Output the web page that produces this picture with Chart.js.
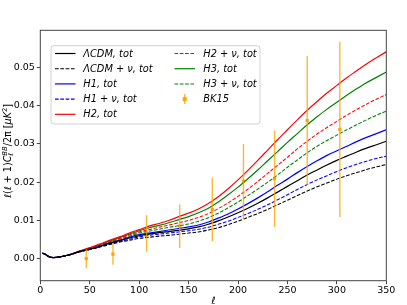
<!DOCTYPE html>
<html>
<head>
  <meta charset="UTF-8">
  <script src="https://cdn.jsdelivr.net/npm/chart.js"></script>
  <style>
    html, body { margin: 0; padding: 0; background: #fff; overflow: hidden; }
  </style>
  <title>BB spectrum</title>
</head>
<body>
  <canvas id="myChart" width="407" height="305"></canvas>
  <script>
    const ells = [2, 4, 7, 10, 13, 20, 30, 40, 50, 60, 70, 80, 90, 100, 110, 120, 130, 140, 150, 160,
      170, 180, 190, 200, 210, 220, 230, 240, 250, 260, 270, 280, 290, 300, 310, 320, 330, 340, 350];

    const lcdmTot = [.0014, .0013, .0008, .0004, .0003, .0005, .0011, .0019, .0025, .0032, .0040, .0047, .0054, .0060, .0064, .0068, .0071, .0074, .0078, .0083,
      .0090, .0099, .0109, .0120, .0132, .0145, .0159, .0174, .0189, .0204, .0219, .0232, .0245, .0257, .0268, .0279, .0289, .0298, .0307];
    const lcdmNu = [.0014, .0013, .0008, .0004, .0003, .0005, .0010, .0018, .0024, .0030, .0037, .0043, .0048, .0053, .0056, .0059, .0061, .0064, .0067, .0070,
      .0075, .0081, .0089, .0098, .0108, .0118, .0129, .0141, .0153, .0165, .0177, .0188, .0198, .0208, .0217, .0225, .0233, .0240, .0246];
    const h1Tot = [.0014, .0013, .0008, .0004, .0003, .0005, .0011, .0019, .0025, .0033, .0041, .0048, .0056, .0063, .0067, .0071, .0075, .0079, .0083, .0088,
      .0096, .0106, .0117, .0130, .0144, .0159, .0175, .0192, .0208, .0225, .0241, .0256, .0270, .0282, .0294, .0306, .0317, .0327, .0337];
    const h1Nu = [.0014, .0013, .0008, .0004, .0003, .0005, .0010, .0018, .0024, .0031, .0038, .0045, .0051, .0057, .0061, .0064, .0067, .0070, .0073, .0077,
      .0082, .0090, .0098, .0108, .0118, .0129, .0141, .0154, .0167, .0181, .0194, .0206, .0217, .0228, .0238, .0247, .0255, .0262, .0268];
    const h2Tot = [.0014, .0013, .0008, .0004, .0003, .0005, .0011, .0020, .0029, .0038, .0048, .0057, .0067, .0076, .0085, .0092, .0100, .0110, .0119, .0130,
      .0144, .0162, .0183, .0206, .0231, .0257, .0284, .0311, .0337, .0363, .0388, .0411, .0433, .0453, .0473, .0491, .0509, .0525, .0541];
    const h2Nu = [.0014, .0013, .0008, .0004, .0003, .0005, .0011, .0020, .0027, .0036, .0045, .0053, .0062, .0070, .0076, .0082, .0088, .0094, .0100, .0108,
      .0118, .0131, .0146, .0163, .0182, .0202, .0223, .0244, .0265, .0287, .0307, .0326, .0343, .0359, .0375, .0390, .0404, .0417, .0429];
    const h3Tot = [.0014, .0013, .0008, .0004, .0003, .0005, .0011, .0020, .0028, .0037, .0046, .0055, .0064, .0073, .0081, .0087, .0094, .0102, .0110, .0120,
      .0132, .0148, .0167, .0187, .0209, .0232, .0256, .0280, .0304, .0327, .0350, .0371, .0391, .0409, .0427, .0444, .0460, .0474, .0488];
    const h3Nu = [.0014, .0013, .0008, .0004, .0003, .0005, .0011, .0019, .0026, .0035, .0043, .0051, .0059, .0067, .0072, .0077, .0082, .0086, .0091, .0098,
      .0107, .0119, .0133, .0148, .0165, .0182, .0200, .0219, .0239, .0258, .0277, .0294, .0309, .0323, .0337, .0350, .0363, .0375, .0386];

    // BK15 band powers
    const bkEll = [46.5, 73.5, 107.5, 141, 174, 205.5, 237, 270, 303];
    const bkVal = [0.0000, 0.0012, 0.0066, 0.0085, 0.0129, 0.0202, 0.0209, 0.0361, 0.0338];
    const bkErr = [0.0025, 0.0028, 0.0048, 0.0057, 0.0083, 0.0098, 0.0126, 0.0169, 0.0229];

    const yTicks = [0.00, 0.01, 0.02, 0.03, 0.04, 0.05];
    const xTicks = [0, 50, 100, 150, 200, 250, 300, 350];

    const FONT = "'DejaVu Sans'";
    const ORANGE = '#ffa500';
    const BAR = 'rgba(255,165,0,0.8)';

    function pts(arr) { return arr.map((v, i) => ({ x: ells[i], y: v })); }
    function curve(label, arr, color, dashed) {
      return {
        label: label, data: pts(arr), borderColor: color, backgroundColor: color,
        borderWidth: dashed ? 1.05 : 1.2, borderDash: dashed ? [3.7, 1.6] : [],
        pointRadius: 0, fill: false, cubicInterpolationMode: 'monotone'
      };
    }

    const datasets = [
      curve('ΛCDM, tot', lcdmTot, '#000000', false),
      curve('ΛCDM + ν, tot', lcdmNu, '#000000', true),
      curve('H1, tot', h1Tot, '#0000ff', false),
      curve('H1 + ν, tot', h1Nu, '#0000ff', true),
      curve('H2, tot', h2Tot, '#ff0000', false),
      curve('H2 + ν, tot', h2Nu, '#ff0000', true),
      curve('H3, tot', h3Tot, '#008000', false),
      curve('H3 + ν, tot', h3Nu, '#008000', true),
      {
        label: 'BK15', data: bkEll.map((l, i) => ({ x: l, y: bkVal[i] })),
        showLine: false, pointStyle: 'rect', pointRadius: 2.3, pointBorderWidth: 0,
        backgroundColor: ORANGE, borderColor: ORANGE
      }
    ];

    // error bars, frame, legend and axis titles
    const extras = {
      id: 'extras',
      afterDatasetsDraw(chart) {
        const c = chart.ctx, xs = chart.scales.x, ys = chart.scales.y;
        c.save();
        c.strokeStyle = BAR;
        c.lineWidth = 1.4;
        bkEll.forEach((l, i) => {
          const px = xs.getPixelForValue(l);
          c.beginPath();
          c.moveTo(px, ys.getPixelForValue(bkVal[i] - bkErr[i]));
          c.lineTo(px, ys.getPixelForValue(bkVal[i] + bkErr[i]));
          c.stroke();
        });
        c.restore();
      },
      afterDraw(chart) {
        const c = chart.ctx, a = chart.chartArea;
        c.save();
        // frame
        c.strokeStyle = '#444';
        c.lineWidth = 1;
        c.strokeRect(a.left, a.top, a.right - a.left, a.bottom - a.top);

        // legend
        const bx = 51, by = 45.7, bw = 209, bh = 78.3;
        c.fillStyle = 'rgba(255,255,255,0.8)';
        c.strokeStyle = 'rgba(204,204,204,0.9)';
        c.beginPath();
        c.roundRect(bx, by, bw, bh, 3);
        c.fill();
        c.stroke();
        const cols = [{ x0: 55, x1: 75.5, tx: 83.3 }, { x0: 174.5, x1: 195, tx: 203.3 }];
        const rowY = i => 53.5 + i * 15.2;
        c.textBaseline = 'middle';
        datasets.forEach((d, i) => {
          const col = i < 5 ? cols[0] : cols[1];
          const y = rowY(i < 5 ? i : i - 5);
          if (d.label === 'BK15') {
            const mx = (col.x0 + col.x1) / 2;
            c.strokeStyle = BAR;
            c.lineWidth = 1.4;
            c.beginPath(); c.moveTo(mx, y - 5); c.lineTo(mx, y + 5); c.stroke();
            c.fillStyle = ORANGE;
            c.fillRect(mx - 2, y - 2, 4, 4);
          } else {
            c.strokeStyle = d.borderColor;
            c.lineWidth = d.borderWidth;
            c.setLineDash(d.borderDash);
            c.beginPath(); c.moveTo(col.x0, y); c.lineTo(col.x1, y); c.stroke();
            c.setLineDash([]);
          }
          c.fillStyle = '#000';
          c.font = 'italic 9.8px ' + FONT;
          c.fillText(d.label, col.tx, y + 0.5);
        });

        // x title
        c.font = '10px ' + FONT;
        c.textAlign = 'center';
        c.textBaseline = 'alphabetic';
        c.fillText('ℓ', (a.left + a.right) / 2, 303.5);

        // y title with sub/superscripts
        c.translate(8.5, 151);
        c.rotate(-Math.PI / 2);
        c.textAlign = 'left';
        c.textBaseline = 'middle';
        const big = 9.6, small = 6.8;
        const parts = [
          { t: 'ℓ(ℓ + 1)', f: big + 'px ' }, { t: 'C', f: 'italic ' + big + 'px ' },
          { t: 'ℓ', f: small + 'px ', dy: 2.5, stack: 'BB' },
          { t: '/2π ', f: big + 'px ' }, { t: '[', f: big + 'px ' },
          { t: 'μK', f: 'italic ' + big + 'px ' }, { t: '2', f: small + 'px ', dy: -3.5 },
          { t: ']', f: big + 'px ' }
        ];
        let w = 0;
        const measure = p => { c.font = p.f + FONT; return c.measureText(p.t).width; };
        parts.forEach(p => {
          let pw = measure(p);
          if (p.stack) { c.font = 'italic ' + small + 'px ' + FONT; pw = Math.max(pw, c.measureText(p.stack).width); }
          p.w = pw; w += pw;
        });
        let x = -w / 2;
        parts.forEach(p => {
          c.font = p.f + FONT;
          c.fillText(p.t, x, p.dy || 0);
          if (p.stack) {
            c.font = 'italic ' + small + 'px ' + FONT;
            c.fillText(p.stack, x, -3.5);
          }
          x += p.w;
        });
        c.restore();
      }
    };

    const ctx = document.getElementById('myChart').getContext('2d');
    const chart = new Chart(ctx, {
      type: 'line',
      data: { datasets: datasets },
      options: {
        responsive: false,
        animation: false,
        devicePixelRatio: 1,
        layout: { padding: { top: 30.3, right: 20.7, left: 0, bottom: 0 } },
        plugins: { legend: { display: false }, tooltip: { enabled: false } },
        scales: {
          x: {
            type: 'linear', min: 0, max: 350,
            afterBuildTicks: s => { s.ticks = xTicks.map(v => ({ value: v })); },
            afterFit: s => { s.height = 24.3; },
            ticks: { color: '#000', font: { family: FONT, size: 9.5 }, padding: 1, maxRotation: 0, autoSkip: false },
            grid: { drawOnChartArea: false, drawTicks: true, tickLength: 3.5, color: '#444' },
            border: { display: false }
          },
          y: {
            min: -0.00575, max: 0.0597,
            afterBuildTicks: s => { s.ticks = yTicks.map(v => ({ value: v })); },
            afterFit: s => { s.width = 40.3; },
            ticks: { color: '#000', font: { family: FONT, size: 9.5 }, padding: 2, callback: v => v.toFixed(2) },
            grid: { drawOnChartArea: false, drawTicks: true, tickLength: 3.5, color: '#444' },
            border: { display: false }
          }
        }
      },
      plugins: [extras]
    });
  </script>
</body>
</html>
